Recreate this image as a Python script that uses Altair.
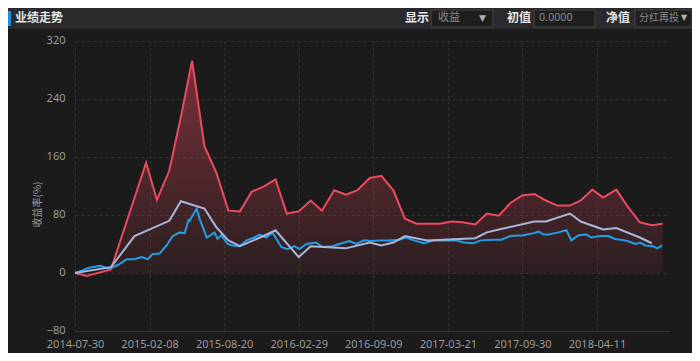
import altair as alt
import pandas as pd

# ---------------- data ----------------
fund_dates = ["2014-07-30","2014-08-29","2014-10-31","2015-01-30","2015-02-27","2015-03-31","2015-04-30",
              "2015-05-29","2015-06-30","2015-07-31","2015-08-31","2015-09-30","2015-10-30","2015-11-30",
              "2015-12-31","2016-01-29","2016-02-29","2016-03-31","2016-04-29","2016-05-31","2016-06-30",
              "2016-07-29","2016-08-31","2016-09-30","2016-10-31","2016-11-30","2016-12-30","2017-01-26",
              "2017-02-28","2017-03-31","2017-04-28","2017-05-31","2017-06-30","2017-07-31","2017-08-31",
              "2017-09-29","2017-10-31","2017-11-30","2017-12-29","2018-01-31","2018-02-28","2018-03-30",
              "2018-04-27","2018-05-31","2018-06-29","2018-07-31","2018-08-31","2018-09-28"]
fund_vals = [0,-4,5,152,101,141,215,293,175,138,86,85,112,119,129,82,85,100,86,114,108,114,131,134,
             114,75,68,68,68,71,70,67,82,79,97,107,109,100,93,93,100,115,104,115,92,70,66,68]

bench_dates = ["2014-07-30","2014-10-31","2014-12-31","2015-03-31","2015-04-30","2015-06-30","2015-07-31",
               "2015-08-31","2015-09-30","2015-11-30","2015-12-31","2016-02-29","2016-03-31","2016-06-30",
               "2016-08-31","2016-09-30","2016-10-31","2016-11-30","2017-01-26","2017-05-31","2017-06-30",
               "2017-07-31","2017-10-31","2017-11-30","2018-01-31","2018-02-28","2018-04-27","2018-05-31",
               "2018-07-31","2018-08-31"]
bench_vals = [0,8,51,72,99,89,63,45,37,51,59,22,37,34,42,38,42,51,45,48,56,60,71,71,82,71,60,62,49,41]

index_dates = ["2014-07-30","2014-08-20","2014-09-02","2014-10-03","2014-10-21","2014-11-05","2014-11-18",
               "2014-12-11","2014-12-31","2015-01-19","2015-02-03","2015-02-16","2015-03-06","2015-03-24",
               "2015-04-09","2015-04-27","2015-05-10","2015-05-20","2015-05-23","2015-05-30","2015-06-10",
               "2015-06-18","2015-07-06","2015-07-18","2015-07-26","2015-08-03","2015-08-13","2015-08-29",
               "2015-09-11","2015-09-29","2015-10-17","2015-11-06","2015-11-19","2015-12-07","2015-12-23",
               "2016-01-15","2016-01-31","2016-02-18","2016-03-02","2016-03-20","2016-04-14","2016-04-30",
               "2016-05-26","2016-06-13","2016-07-09","2016-07-27","2016-08-16","2016-09-03","2016-09-24",
               "2016-10-20","2016-11-15","2016-12-03","2016-12-23","2017-01-18","2017-02-13","2017-03-18",
               "2017-04-11","2017-05-01","2017-05-27","2017-06-14","2017-07-18","2017-08-07","2017-08-30",
               "2017-10-03","2017-10-29","2017-11-11","2017-11-24","2017-12-07","2018-01-01","2018-01-22",
               "2018-02-04","2018-02-22","2018-03-15","2018-03-27","2018-04-20","2018-05-10","2018-05-28",
               "2018-06-23","2018-07-09","2018-07-19","2018-08-01","2018-08-14","2018-09-03","2018-09-14",
               "2018-09-27"]
index_vals = [0,4,7,10,7,8,11,19,19,22,19,26,27,38,51,56,55,73,72,79,89,74,49,53,56,47,52,40,38,37,45,49,
              53,49,56,36,33,37,33,40,42,36,37,40,44,40,45,44,45,45,46,49,45,41,45,45,45,42,41,45,46,46,51,
              52,55,57,53,53,56,59,45,52,53,49,51,51,47,45,42,40,42,38,37,34,38]

x_ticks = [(2014,7,30),(2015,2,8),(2015,8,20),(2016,2,29),(2016,9,9),(2017,3,21),(2017,9,30),(2018,4,11)]
y_ticks = [-80, 0, 80, 160, 240, 320]

fund = pd.DataFrame({"date": fund_dates, "value": fund_vals})
bench = pd.DataFrame({"date": bench_dates, "value": bench_vals})
index = pd.DataFrame({"date": index_dates, "value": index_vals})

FONT = "Noto Sans CJK SC"
RED = "#ec4a5e"
LAV = "#a9b6dc"
BLUE = "#1e9fe8"

xscale = alt.Scale(type="utc",
                   domain=[alt.DateTime(year=2014, month=7, date=30, utc=True),
                           alt.DateTime(year=2018, month=10, date=17, utc=True)])
yscale = alt.Scale(domain=[-80, 320], nice=False, zero=False)

xaxis = alt.Axis(values=[alt.DateTime(year=a, month=b, date=c, utc=True) for a, b, c in x_ticks],
                 format="%Y-%m-%d", labelOverlap=False, labelFlush=False, title=None,
                 grid=True, gridDash=[3, 3], gridColor="#333333", ticks=False,
                 domain=True, domainColor="#333333", labelColor="#9a9a9a", labelFontSize=11,
                 labelPadding=7, labelFont="Noto Sans")
yaxis = alt.Axis(values=y_ticks, title="收益率(%)", grid=True, gridDash=[3, 3], gridColor="#333333",
                 ticks=False, domain=False, labelColor="#9a9a9a", labelFontSize=11, labelPadding=10,
                 labelOffset=-1, labelFont="Noto Sans", titleColor="#9a9a9a", titleFontSize=10,
                 titleFontWeight="normal", titleFont=FONT, titleX=-33, titleY=163)

X = alt.X("date:T", scale=xscale, axis=xaxis)
Y = alt.Y("value:Q", scale=yscale, axis=yaxis)

area = alt.Chart(fund).mark_area(
    color=alt.Gradient(gradient="linear", x1=0, y1=0, x2=0, y2=1,
                       stops=[alt.GradientStop(color="rgba(236,74,94,0.45)", offset=0),
                              alt.GradientStop(color="rgba(236,74,94,0.07)", offset=1)])
).encode(x=X, y=Y, y2=alt.datum(0))

fund_line = alt.Chart(fund).mark_line(color=RED, strokeWidth=2).encode(x=X, y=Y)
index_line = alt.Chart(index).mark_line(color=BLUE, strokeWidth=2).encode(x=X, y=Y)
bench_line = alt.Chart(bench).mark_line(color=LAV, strokeWidth=2).encode(x=X, y=Y)

one = alt.Data(values=[{}])


def box(x1, x2, y1, y2, fill, stroke=None):
    kw = dict(fill=fill)
    if stroke:
        kw.update(stroke=stroke, strokeWidth=1)
    return alt.Chart(one).mark_rect(**kw).encode(
        x=alt.value(x1), x2=alt.value(x2), y=alt.value(y1), y2=alt.value(y2))


def label(x, y, s, color="#dddddd", size=12, weight="normal", font=FONT):
    return alt.Chart(one).mark_text(align="left", baseline="middle", color=color, fontSize=size,
                                    fontWeight=weight, font=font).encode(
        x=alt.value(x), y=alt.value(y), text=alt.value(s))


# header bar (positions relative to the plot's top-left corner)
header = [
    box(-67, 617, -33, -12, "#2a2a2c"),
    box(-67, -64, -30, -15, "#1e8fe0"),
    label(-60, -23, "业绩走势", "#e6e6e6", 12, "bold"),
    label(330, -23, "显示", "#e6e6e6", 12, "bold"),
    box(356, 418, -31, -14, "#1e1e1e", "#444444"),
    label(363, -23, "收益", "#8a8a8a", 11),
    label(404, -23, "▼", "#b0b0b0", 9, font="DejaVu Sans"),
    label(432, -23, "初值", "#e6e6e6", 12, "bold"),
    box(459, 520, -31, -14, "#1e1e1e", "#444444"),
    label(464, -23, "0.0000", "#8a8a8a", 11),
    label(531, -23, "净值", "#e6e6e6", 12, "bold"),
    box(560, 617, -31, -14, "#1e1e1e", "#444444"),
    label(564, -23, "分红再投", "#8a8a8a", 10),
    label(606, -23, "▼", "#b0b0b0", 8, font="DejaVu Sans"),
]

chart = alt.layer(area, fund_line, index_line, bench_line, *header).properties(
    width=595, height=290,
    padding={"left": 67, "top": 33, "right": 22, "bottom": 22},
    autosize=alt.AutoSizeParams(type="none"),
    background="#1b1b1b",
).configure_view(stroke=None)

chart.save("out.html", embed_options={"renderer": "svg", "actions": False})
